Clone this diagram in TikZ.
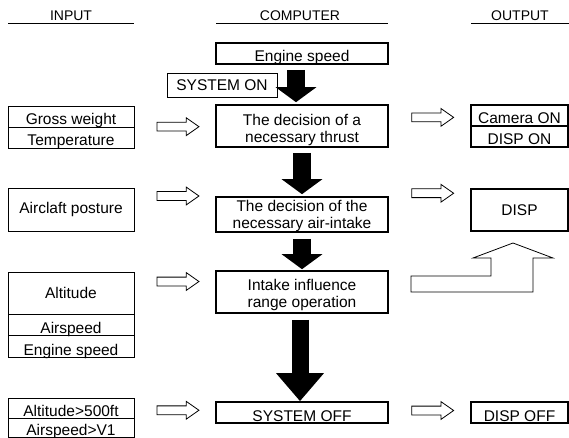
\documentclass[tikz,border=0pt]{standalone}
\usepackage{fontspec}
\setmainfont{Liberation Sans}
\usetikzlibrary{arrows.meta,shapes.arrows,calc}

\tikzset{
  inbox/.style={draw,line width=0.8pt,inner sep=0pt,minimum width=126pt},
  cbox/.style={draw,line width=1.6pt,inner sep=0pt,minimum width=172pt,align=center},
  outbox/.style={draw,line width=1.6pt,inner sep=0pt,minimum width=97pt},
  sitlow/.style={text height=#1,text depth=2pt},
  hollow/.style={single arrow,draw,line width=0.8pt,minimum height=42pt,inner sep=4pt,
    single arrow head extend=4.5pt,single arrow tip angle=70},
  blackarrow/.style={line width=18pt,-{Triangle[width=40pt,length=15pt]}},
  headline/.style={line width=0.8pt},
  headtext/.style={anchor=base,font=\fontsize{14}{16}\selectfont}
}

\begin{document}
\begin{tikzpicture}[x=1pt,y=-1pt,font=\fontsize{15.5}{17}\selectfont]
  \useasboundingbox (0,0) rectangle (569,438);

  % column heads
  \node[headtext] (hin) at (71,21) {INPUT};
  \node[headtext] (hcomp) at (300,21) {COMPUTER};
  \node[headtext] (hout) at (520,21) {OUTPUT};
  \draw[headline] (8,23) -- (134,23);
  \draw[headline] (216,23) -- (388,23);
  \draw[headline] (471,23) -- (569,23);

  % computer column
  \node[cbox,minimum height=21pt,sitlow=19pt] (engine) at (302,53.5) {Engine speed};
  \node[draw,line width=0.8pt,inner sep=0pt,minimum width=110pt,minimum height=24pt] (syson) at (222,85) {SYSTEM ON};
  \node[cbox,minimum height=42pt,text height=38pt,text depth=4pt] (thrust) at (302,126) {The decision of a\\necessary thrust};
  \node[cbox,minimum height=35pt,text height=31pt,text depth=4pt] (intake) at (302,214.5) {The decision of the\\necessary air-intake};
  \node[cbox,minimum height=42pt,text height=36pt,text depth=6pt] (range) at (302,292) {Intake influence\\range operation};
  \node[cbox,minimum height=21pt,sitlow=19pt] (sysoff) at (302,412.5) {SYSTEM OFF};

  % input column
  \node[inbox,minimum height=21pt,sitlow=19pt] (gross) at (71,116.5) {Gross weight};
  \node[inbox,minimum height=21pt,sitlow=19pt] (temp) at (71,137.5) {Temperature};
  \node[inbox,minimum height=43pt] (posture) at (71,209.5) {Airclaft posture};
  \node[inbox,minimum height=42pt] (alt) at (71,293) {Altitude};
  \node[inbox,minimum height=21pt,sitlow=19pt] (airsp) at (71,324.5) {Airspeed};
  \node[inbox,minimum height=22pt,sitlow=20pt] (engin) at (71,346) {Engine speed};
  \node[inbox,minimum height=20pt,sitlow=18pt] (altlim) at (71,408) {Altitude>500ft};
  \node[inbox,minimum height=19.5pt,sitlow=17.5pt] (vlim) at (71,427.75) {Airspeed>V1};

  % output column
  \node[outbox,minimum height=21pt,sitlow=19pt] (cam) at (519.5,115.5) {Camera ON};
  \node[outbox,minimum height=21pt,sitlow=19pt] (dispon) at (519.5,136.5) {DISP ON};
  \node[outbox,minimum height=42pt] (disp) at (519.5,210) {DISP};
  \node[outbox,minimum height=21pt,sitlow=19pt] (dispoff) at (519.5,412.5) {DISP OFF};

  % hollow arrows
  \node[hollow] (ha) at ($(gross.south east)!0.5!(thrust.west)$) {};
  \node[hollow,yshift=9pt] (hb) at ($(thrust.east)!0.5!(cam.south west)$) {};
  \node[hollow,yshift=16pt] (hc) at ($(posture.east)!0.5!(intake.west)$) {};
  \node[hollow,yshift=19pt] (hd) at ($(intake.east)!0.5!(disp.west)$) {};
  \node[hollow,yshift=11pt] (he) at ($(alt.east)!0.5!(range.west)$) {};
  \node[hollow] (hf) at ($(altlim.east)!0.5!(sysoff.west)$) {};
  \node[hollow,yshift=2pt] (hg) at ($(sysoff.east)!0.5!(dispoff.west)$) {};

  % black flow arrows
  \draw[blackarrow] ([xshift=-6pt,yshift=-5pt]engine.south) -- ([xshift=-6pt,yshift=2pt]thrust.north);
  \draw[blackarrow] ([yshift=-5pt]thrust.south) -- ([yshift=2pt]intake.north);
  \draw[blackarrow] ([yshift=-6pt]intake.south) -- ([yshift=1pt]range.north);
  \draw[line width=17pt,-{Triangle[width=46pt,length=28pt]}] ([xshift=-2pt,yshift=-6pt]range.south) -- ([xshift=-2pt]sysoff.north);

  % stepped arrow up to DISP
  \draw[line width=0.8pt] (411,276) -- (491,276) -- (491,258) -- (473,258) -- (513,243)
    -- (553,258) -- (533,258) -- (533,292) -- (411,292) -- cycle;
\end{tikzpicture}
\end{document}
